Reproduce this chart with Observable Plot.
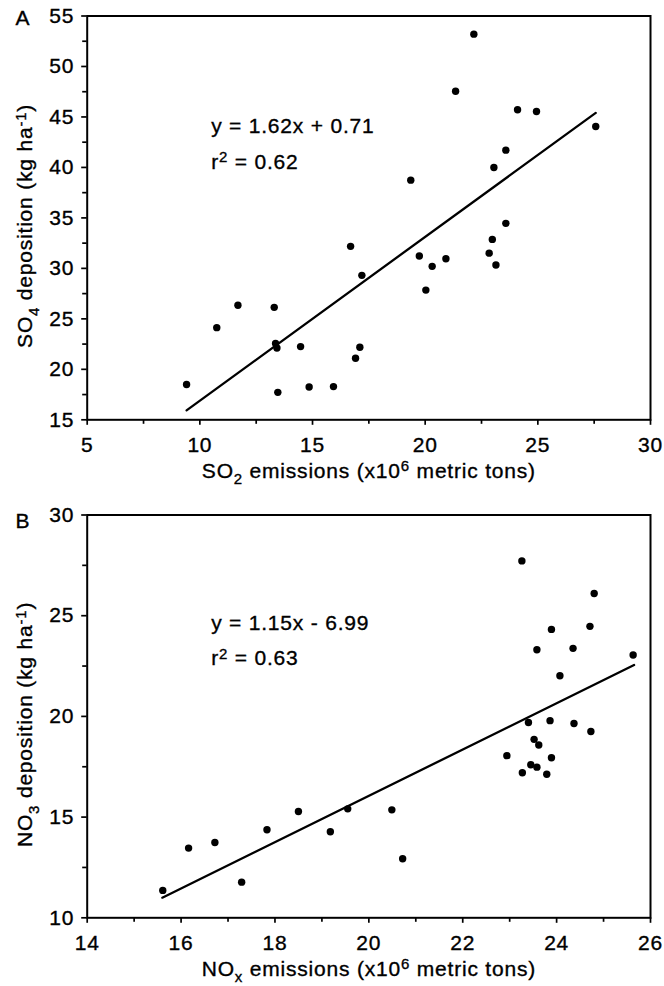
<!DOCTYPE html>
<html>
<head>
<meta charset="utf-8">
<script src="https://cdn.jsdelivr.net/npm/d3@7"></script>
<script src="https://cdn.jsdelivr.net/npm/@observablehq/plot@0.6"></script>
<style>
  html, body { margin: 0; padding: 0; background: white; }
  #chart svg { display: block; }
  #chart text { stroke: black; stroke-width: 0.35px; }
</style>
</head>
<body>
<div id="chart"></div>
<script>
// ---- Panel A data: SO2 emissions (x10^6 metric tons) vs SO4 deposition (kg/ha)
const so2Emissions = [22.16, 21.35, 24.10, 24.94, 27.57, 23.58, 23.05, 19.36, 23.58, 22.98,
  16.69, 22.84, 23.14, 19.74, 20.92, 20.31, 17.19, 20.03, 17.10, 16.91,
  15.93, 9.41, 10.75, 11.69, 13.30, 13.36, 13.42, 14.47, 13.46, 14.85];
const so4Deposition = [53.2, 47.55, 45.71, 45.54, 44.06, 41.71, 40.0, 38.74, 34.46, 32.87,
  32.18, 31.51, 30.33, 31.22, 30.96, 30.2, 29.31, 27.85, 22.18, 21.09,
  18.29, 18.49, 24.13, 26.34, 26.14, 22.57, 22.11, 22.25, 17.72, 18.25];
const fitLineAX = [9.41, 27.57];
const fitLineAY = [15.94, 45.4];
const eqTextA = ["y = 1.62x + 0.71", "r^{2} = 0.62"];
const eqPosAX = [10.5, 10.5];
const eqPosAY = [43.4, 39.87];

// ---- Panel B data: NOx emissions vs NO3 deposition
const noxEmissions = [23.26, 24.80, 23.89, 24.71, 23.58, 24.35, 25.63, 24.07,
  23.40, 23.86, 24.37, 24.73, 23.52, 23.62, 22.94, 23.89, 23.45, 23.58, 23.27, 23.79,
  19.55, 20.49, 19.18, 20.72, 15.61, 16.16, 16.72, 17.29, 17.83, 18.50];
const no3Deposition = [27.72, 26.10, 24.32, 24.47, 23.31, 23.38, 23.05, 22.02,
  19.70, 19.79, 19.65, 19.25, 18.86, 18.58, 18.05, 17.95, 17.60, 17.48, 17.20, 17.13,
  15.41, 15.36, 14.27, 12.93, 11.36, 13.46, 13.74, 11.77, 14.37, 15.28];
const fitLineBX = [15.6, 25.65];
const fitLineBY = [11.0, 22.55];
const eqTextB = ["y = 1.15x - 6.99", "r^{2} = 0.63"];
const eqPosBX = [16.64, 16.64];
const eqPosBY = [24.27, 22.53];

// ---- Axes / tick labels
const xMajorA = [5, 10, 15, 20, 25, 30];
const xMinorA = [7.5, 12.5, 17.5, 22.5, 27.5];
const yMajorA = [15, 20, 25, 30, 35, 40, 45, 50, 55];
const yMinorA = [17.5, 22.5, 27.5, 32.5, 37.5, 42.5, 47.5, 52.5];
const xMajorB = [14, 16, 18, 20, 22, 24, 26];
const xMinorB = [15, 17, 19, 21, 23, 25];
const yMajorB = [10, 15, 20, 25, 30];
const yMinorB = [12.5, 17.5, 22.5, 27.5];
const xLabelA = "SO_{2} emissions (x10^{6} metric tons)";
const yLabelA = "SO_{4} deposition (kg ha^{-1})";
const xLabelB = "NO_{x} emissions (x10^{6} metric tons)";
const yLabelB = "NO_{3} deposition (kg ha^{-1})";
const panelLetters = ["A", "B"];

const FONT = "'Liberation Sans', Arial, Helvetica, sans-serif";
const FS = 21;

function zip(xs, ys) { return xs.map((x, i) => ({x, y: ys[i]})); }

function panel(o) {
  const pts = zip(o.px, o.py);
  const line = zip(o.lx, o.ly);
  const eq = o.eqText.map((t, i) => ({x: o.eqX[i], y: o.eqY[i], text: t}));
  return Plot.plot({
    width: 664,
    height: o.height,
    marginLeft: 86.7,
    marginRight: 14,
    marginTop: o.mt,
    marginBottom: o.mb,
    style: `font-family: ${FONT}; font-size: ${FS}px; color: black; background: white; overflow: visible; letter-spacing: 0.8px;`,
    x: {domain: o.xDomain, axis: null},
    y: {domain: o.yDomain, axis: null},
    marks: [
      Plot.axisX({ticks: o.xMinor, tickSize: 4.5, tickFormat: () => "", label: null, strokeWidth: 1.7}),
      Plot.axisY({ticks: o.yMinor, tickSize: 4.5, tickFormat: () => "", label: null, strokeWidth: 1.7}),
      Plot.axisX({ticks: o.xMajor, tickSize: 5.5, tickPadding: 12, tickFormat: d => String(d), label: null, fontSize: FS, strokeWidth: 1.7}),
      Plot.axisY({ticks: o.yMajor, tickSize: 5.5, tickPadding: 7.5, tickFormat: d => String(d), label: null, fontSize: FS, strokeWidth: 1.7}),
      Plot.frame({stroke: "black", strokeWidth: 2}),
      Plot.line(line, {x: "x", y: "y", stroke: "black", strokeWidth: 2.3}),
      Plot.dot(pts, {x: "x", y: "y", r: 3.7, fill: "black", stroke: null}),
      Plot.text(eq, {x: "x", y: "y", text: "text", textAnchor: "start", lineAnchor: "bottom", fontSize: FS}),
      Plot.text([o.xLabel], {frameAnchor: "bottom", dy: 58, textAnchor: "middle", lineAnchor: "bottom", fontSize: FS}),
      Plot.text([o.yLabel], {frameAnchor: "left", dx: -54.7, dy: 8, rotate: -90, textAnchor: "middle", lineAnchor: "bottom", fontSize: FS}),
      Plot.text([o.letter], {frameAnchor: "top-left", dx: -71.7, dy: o.letterDy, textAnchor: "start", lineAnchor: "bottom", fontSize: FS})
    ]
  });
}

function richText(svg) {
  svg.querySelectorAll("text").forEach(t => {
    const s = t.textContent;
    if (!/[_^]\{/.test(s)) return;
    while (t.firstChild) t.removeChild(t.firstChild);
    const parts = s.split(/(_\{[^}]*\}|\^\{[^}]*\})/).filter(p => p.length);
    let shift = 0;
    const ns = "http://www.w3.org/2000/svg";
    parts.forEach(p => {
      const ts = document.createElementNS(ns, "tspan");
      let target = 0, txt = p;
      if (p.startsWith("_{")) { target = 6.5; txt = p.slice(2, -1); ts.setAttribute("font-size", "15"); }
      else if (p.startsWith("^{")) { target = -6.5; txt = p.slice(2, -1); ts.setAttribute("font-size", "15"); }
      const d = target - shift;
      if (d !== 0) ts.setAttribute("dy", d);
      shift = target;
      ts.textContent = txt;
      t.appendChild(ts);
    });
  });
}

const chartA = panel({
  height: 490, mt: 15.5, mb: 70.7,
  xDomain: [5, 30], yDomain: [15, 55],
  xMajor: xMajorA, xMinor: xMinorA, yMajor: yMajorA, yMinor: yMinorA,
  px: so2Emissions, py: so4Deposition, lx: fitLineAX, ly: fitLineAY,
  eqText: eqTextA, eqX: eqPosAX, eqY: eqPosAY,
  xLabel: xLabelA, yLabel: yLabelA, letter: panelLetters[0], letterDy: 8.5
});
const chartB = panel({
  height: 496, mt: 24.5, mb: 68.7,
  xDomain: [14, 26], yDomain: [10, 30],
  xMajor: xMajorB, xMinor: xMinorB, yMajor: yMajorB, yMinor: yMinorB,
  px: noxEmissions, py: no3Deposition, lx: fitLineBX, ly: fitLineBY,
  eqText: eqTextB, eqX: eqPosBX, eqY: eqPosBY,
  xLabel: xLabelB, yLabel: yLabelB, letter: panelLetters[1], letterDy: 12.5
});
richText(chartA);
richText(chartB);
document.getElementById("chart").append(chartA, chartB);
</script>
</body>
</html>
